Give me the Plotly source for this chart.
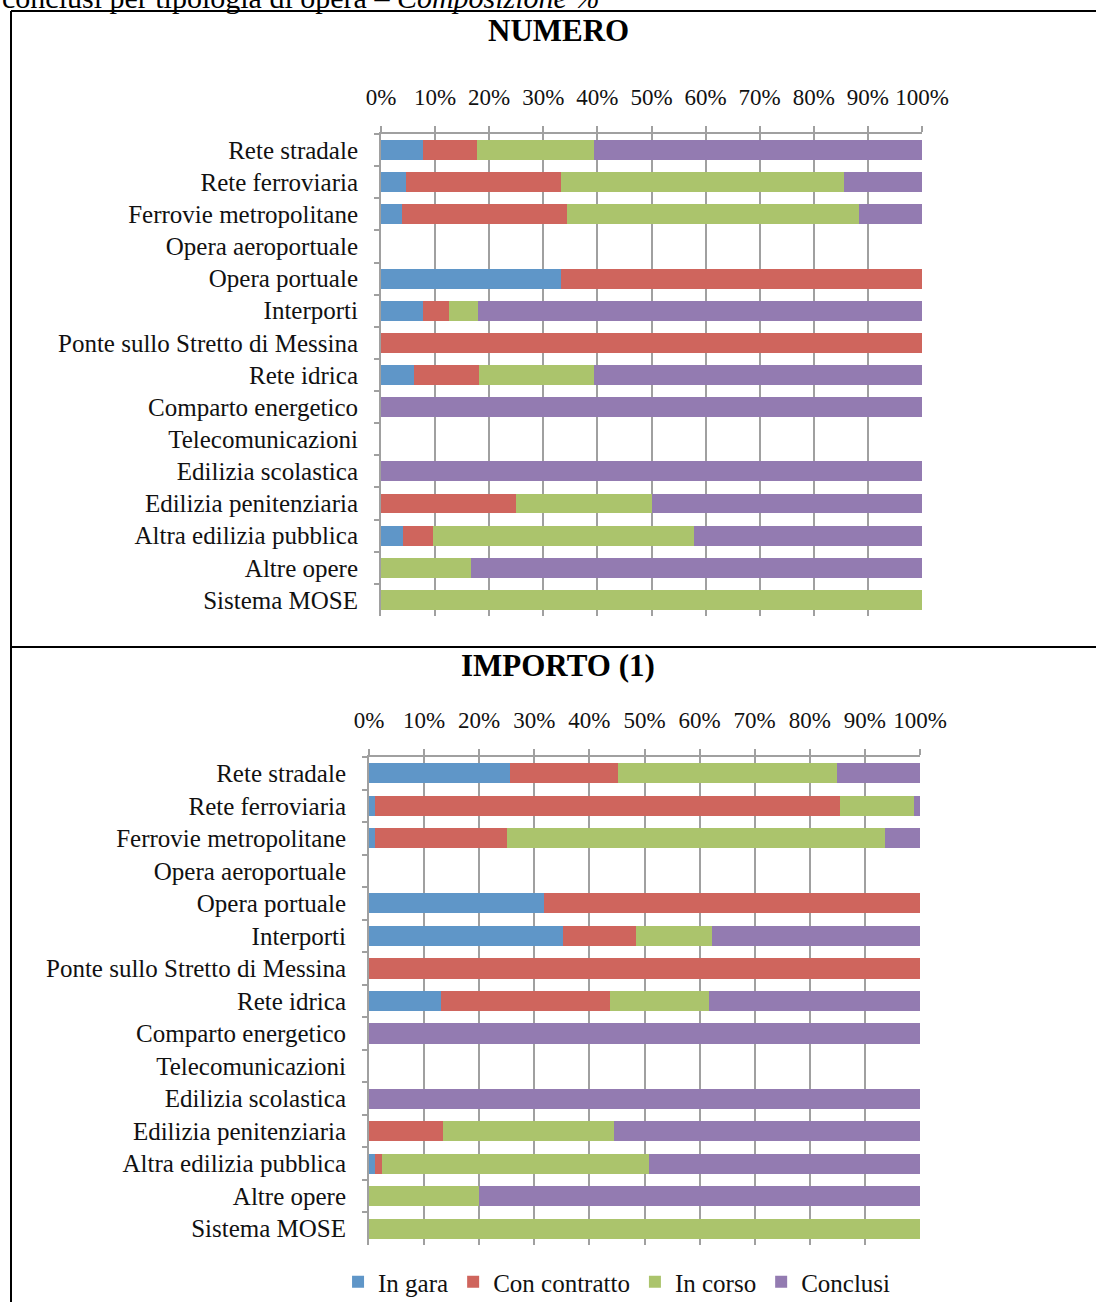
import plotly.graph_objects as go

# Categorie di opera (dall'alto verso il basso)
categorie = [
    "Rete stradale", "Rete ferroviaria", "Ferrovie metropolitane",
    "Opera aeroportuale", "Opera portuale", "Interporti",
    "Ponte sullo Stretto di Messina", "Rete idrica", "Comparto energetico",
    "Telecomunicazioni", "Edilizia scolastica", "Edilizia penitenziaria",
    "Altra edilizia pubblica", "Altre opere", "Sistema MOSE",
]

serie = ["In gara", "Con contratto", "In corso", "Conclusi"]
colori = ["#5F96C8", "#CF655D", "#ABC46C", "#937BB1"]

# Composizione % per numero di opere
numero_in_gara = [7.7, 4.7, 3.8, 0, 33.3, 7.7, 0, 6.1, 0, 0, 0, 0, 4.0, 0, 0]
numero_con_contratto = [10.0, 28.6, 30.6, 0, 66.7, 4.9, 100, 12.0, 0, 0, 0, 25.0, 5.7, 0, 0]
numero_in_corso = [21.7, 52.3, 53.9, 0, 0, 5.3, 0, 21.3, 0, 0, 0, 25.0, 48.1, 16.7, 100]
numero_conclusi = [60.6, 14.4, 11.7, 0, 0, 82.1, 0, 60.6, 100, 0, 100, 50.0, 42.2, 83.3, 0]

# Composizione % per importo
importo_in_gara = [25.5, 1.1, 1.1, 0, 31.7, 35.2, 0, 13.1, 0, 0, 0, 0, 1.1, 0, 0]
importo_con_contratto = [19.6, 84.4, 24.0, 0, 68.3, 13.2, 100, 30.6, 0, 0, 0, 13.4, 1.3, 0, 0]
importo_in_corso = [39.9, 13.5, 68.5, 0, 0, 13.9, 0, 18.0, 0, 0, 0, 31.1, 48.5, 19.9, 100]
importo_conclusi = [15.0, 1.0, 6.4, 0, 0, 37.7, 0, 38.3, 100, 0, 100, 55.5, 49.1, 80.1, 0]

tick_vals = list(range(0, 101, 10))
tick_text = [f"{v}%" for v in tick_vals]

W, H = 1096, 1302
FONT = "Liberation Serif"


def px_x(p):
    return p / W


def px_y(p):
    return 1 - p / H


fig = go.Figure()

numero = [numero_in_gara, numero_con_contratto, numero_in_corso, numero_conclusi]
importo = [importo_in_gara, importo_con_contratto, importo_in_corso, importo_conclusi]

for nome, col, vals in zip(serie, colori, numero):
    fig.add_trace(go.Bar(
        y=categorie, x=vals, name=nome, orientation="h",
        marker=dict(color=col, line=dict(width=0)),
        xaxis="x", yaxis="y", legendgroup=nome, showlegend=True,
        hovertemplate="%{y}: %{x}%<extra>" + nome + "</extra>",
    ))

for nome, col, vals in zip(serie, colori, importo):
    fig.add_trace(go.Bar(
        y=categorie, x=vals, name=nome, orientation="h",
        marker=dict(color=col, line=dict(width=0)),
        xaxis="x2", yaxis="y2", legendgroup=nome, showlegend=False,
        hovertemplate="%{y}: %{x}%<extra>" + nome + "</extra>",
    ))

grid_col = "#A0A0A0"
xaxis_common = dict(
    range=[0, 100], side="top", tickvals=tick_vals, ticktext=tick_text,
    showgrid=True, gridcolor=grid_col, gridwidth=2,
    showline=True, linecolor=grid_col, linewidth=2,
    ticks="outside", ticklen=6, tickcolor=grid_col, tickwidth=2,
    ticklabelstandoff=12, zeroline=False, automargin=False,
    tickfont=dict(family=FONT, size=23, color="#111111"),
    fixedrange=True,
)
yaxis_common = dict(
    autorange="reversed", type="category",
    showline=True, linecolor=grid_col, linewidth=2,
    ticks="outside", ticklen=5, tickcolor=grid_col, tickwidth=2,
    tickson="boundaries", ticklabelstandoff=16, showgrid=False,
    automargin=False,
    tickfont=dict(family=FONT, size=25, color="#111111"),
    fixedrange=True,
)

fig.update_layout(
    width=W, height=H, autosize=False,
    margin=dict(l=0, r=0, t=0, b=0, pad=0, autoexpand=False),
    paper_bgcolor="white", plot_bgcolor="white",
    barmode="stack", bargap=0.38,
    font=dict(family=FONT, color="#111111"),
    xaxis=dict(domain=[px_x(381), px_x(922)], anchor="y", **xaxis_common),
    yaxis=dict(domain=[px_y(616), px_y(134)], anchor="x", **yaxis_common),
    xaxis2=dict(domain=[px_x(369), px_x(920)], anchor="y2", **xaxis_common),
    yaxis2=dict(domain=[px_y(1245), px_y(757)], anchor="x2", **yaxis_common),
    legend=dict(
        orientation="h", x=0.563, xanchor="center", y=px_y(1282), yanchor="middle",
        font=dict(family=FONT, size=25, color="#111111"),
        itemwidth=30, tracegroupgap=0, traceorder="normal",
        bgcolor="rgba(0,0,0,0)",
    ),
    showlegend=True,
)

# Cornici dei due riquadri
line_style = dict(color="black", width=2)
fig.add_shape(type="line", xref="paper", yref="paper",
              x0=px_x(11), x1=px_x(11), y0=px_y(11), y1=0, line=line_style)
fig.add_shape(type="line", xref="paper", yref="paper",
              x0=px_x(11), x1=1, y0=px_y(11), y1=px_y(11), line=line_style)
fig.add_shape(type="line", xref="paper", yref="paper",
              x0=px_x(11), x1=1, y0=px_y(647), y1=px_y(647), line=line_style)

# Riga di testo superiore (tagliata dal bordo) e titoli dei riquadri
fig.add_annotation(
    x=0, y=1, xref="paper", yref="paper", xanchor="left", yanchor="middle",
    text="conclusi per tipologia di opera – <i>Composizione %</i>",
    showarrow=False, font=dict(family=FONT, size=30, color="black"), yshift=3,
)
fig.add_annotation(
    x=px_x(558), y=px_y(30), xref="paper", yref="paper",
    xanchor="center", yanchor="middle",
    text="<b>NUMERO</b>", showarrow=False,
    font=dict(family=FONT, size=31, color="black"),
)
fig.add_annotation(
    x=px_x(558), y=px_y(665), xref="paper", yref="paper",
    xanchor="center", yanchor="middle",
    text="<b>IMPORTO (1)</b>", showarrow=False,
    font=dict(family=FONT, size=31, color="black"),
)

fig.write_html("out.html", config={"responsive": False})
